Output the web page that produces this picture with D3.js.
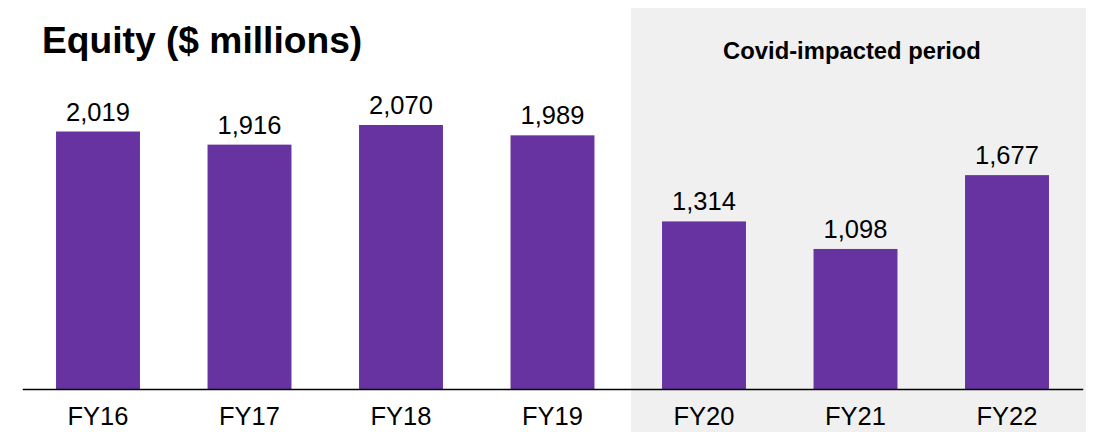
<!DOCTYPE html>
<html>
<head>
<meta charset="utf-8">
<script src="https://cdn.jsdelivr.net/npm/d3@7"></script>
<style>
  html, body { margin: 0; padding: 0; background: #ffffff; }
  svg { display: block; font-family: "Liberation Sans", Arial, sans-serif; }
</style>
</head>
<body>
<svg id="chart" width="1094" height="432"></svg>
<script>
// Fiscal years and shareholders' equity ($ millions)
const categories = ["FY16", "FY17", "FY18", "FY19", "FY20", "FY21", "FY22"];
const equity = [2019, 1916, 2070, 1989, 1314, 1098, 1677];
const valueLabels = ["2,019", "1,916", "2,070", "1,989", "1,314", "1,098", "1,677"];
const shadedFrom = "FY20"; // first year of the Covid-impacted period

const width = 1094, height = 432;
const baseline = 389;
const svg = d3.select("#chart");

const x = d3.scaleBand()
  .domain(categories)
  .range([22.25, 1082.75])
  .paddingInner(0.446)
  .paddingOuter(0.223);

const y = d3.scaleLinear()
  .domain([0, d3.max(equity)])
  .range([baseline, 125]);

// Shaded Covid panel
const panelX = x(shadedFrom) - 31;
svg.append("rect")
  .attr("x", panelX)
  .attr("y", 8)
  .attr("width", 1086 - panelX)
  .attr("height", height - 8)
  .attr("fill", "#f0f0f0");

svg.append("text")
  .attr("x", 852)
  .attr("y", 59)
  .attr("text-anchor", "middle")
  .attr("font-size", 23.8)
  .attr("font-weight", "bold")
  .attr("fill", "#000")
  .text("Covid-impacted period");

// Title
svg.append("text")
  .attr("x", 42)
  .attr("y", 53)
  .attr("font-size", 37.2)
  .attr("font-weight", "bold")
  .attr("fill", "#000")
  .text("Equity ($ millions)");

// Bars
svg.append("g")
  .selectAll("rect")
  .data(equity)
  .join("rect")
  .attr("x", (d, i) => x(categories[i]))
  .attr("y", d => y(d))
  .attr("width", x.bandwidth())
  .attr("height", d => y(0) - y(d))
  .attr("fill", "#6633a0");

// Value labels
svg.append("g")
  .selectAll("text")
  .data(equity)
  .join("text")
  .attr("x", (d, i) => x(categories[i]) + x.bandwidth() / 2)
  .attr("y", d => y(d) - 11)
  .attr("text-anchor", "middle")
  .attr("font-size", 25.5)
  .attr("fill", "#000")
  .text((d, i) => valueLabels[i]);

// Category axis
const axis = svg.append("g")
  .attr("transform", `translate(0,${baseline})`)
  .call(d3.axisBottom(x).tickSize(0).tickSizeOuter(0).tickPadding(0));

axis.select(".domain")
  .attr("stroke", "#000")
  .attr("stroke-width", 1.5);

axis.selectAll(".tick text")
  .attr("font-size", 25.5)
  .attr("font-family", "'Liberation Sans', Arial, sans-serif")
  .attr("fill", "#000")
  .attr("dy", 0)
  .attr("y", 36);
</script>
</body>
</html>
